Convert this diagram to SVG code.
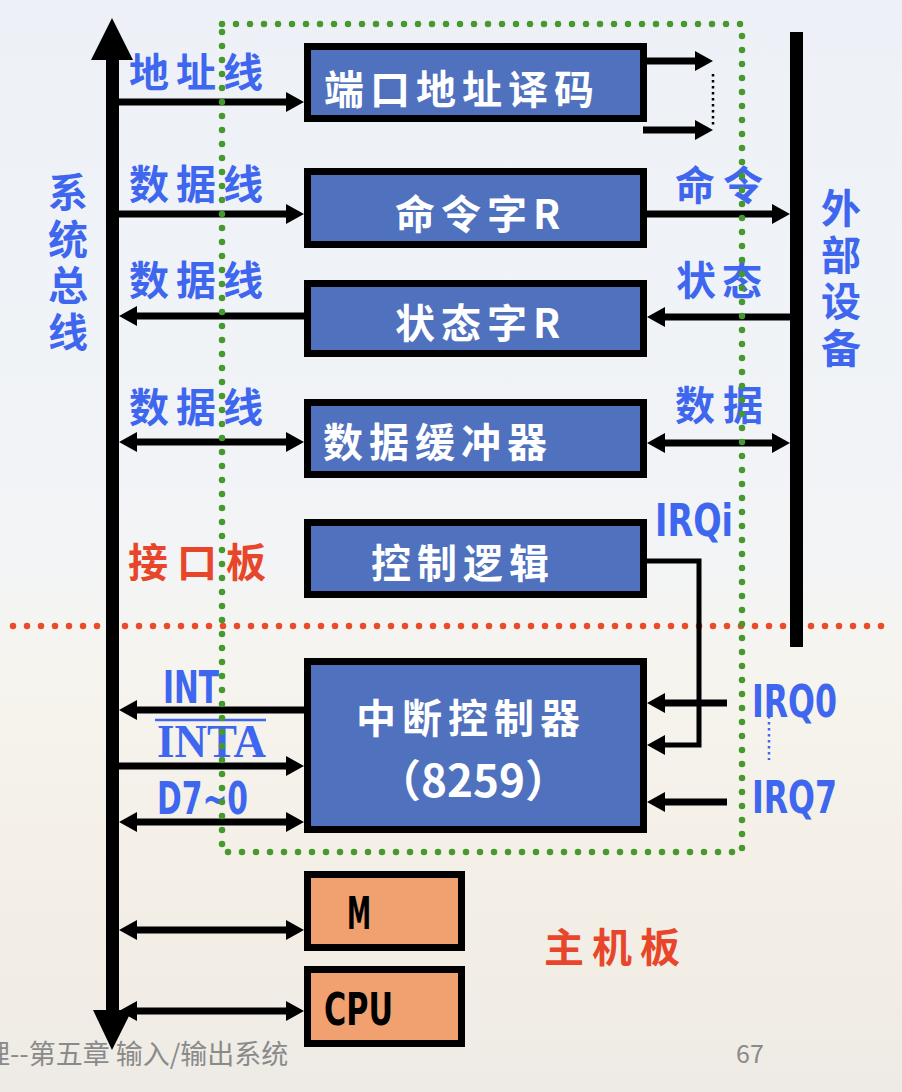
<svg xmlns="http://www.w3.org/2000/svg" width="902" height="1092" viewBox="0 0 902 1092">
<defs>
<linearGradient id="bg" x1="0" y1="0" x2="0" y2="1">
<stop offset="0" stop-color="#edf1f7"/>
<stop offset="0.5" stop-color="#f2f4f6"/>
<stop offset="0.62" stop-color="#f6f4ee"/>
<stop offset="0.85" stop-color="#f3eee5"/>
<stop offset="1" stop-color="#eeebe6"/>
</linearGradient>
<marker id="ah" viewBox="0 0 18 20" markerWidth="18" markerHeight="20" markerUnits="userSpaceOnUse" refX="8" refY="10" orient="auto-start-reverse">
<path d="M0,0 L18,10 L0,20 Z" fill="#000"/>
</marker>
<style>
.box{fill:#4f71be;stroke:#000;stroke-width:7}
.obox{fill:#f1a170;stroke:#000;stroke-width:7}
.bt{font-family:"Noto Sans CJK SC",sans-serif;font-size:40px;font-weight:bold;fill:#fff;letter-spacing:6px}
.lb{font-family:"Noto Sans CJK SC",sans-serif;font-size:40px;font-weight:bold;fill:#3e66ee}
.rd{font-family:"Noto Sans CJK SC",sans-serif;font-size:40px;font-weight:bold;fill:#e8462a}
.en{font-family:"DejaVu Sans Condensed","DejaVu Sans",sans-serif;font-weight:bold;font-size:44px;fill:#3e66ee}
.ser{font-family:"Liberation Serif",serif;font-weight:bold;font-size:46px;fill:#3e66ee}
.bk{font-family:"DejaVu Sans Condensed","DejaVu Sans",sans-serif;font-weight:bold;font-size:44px;fill:#000}
.w{stroke:#000;stroke-width:7;fill:none}
.w5{stroke:#000;stroke-width:5;fill:none}
.ft{font-family:"Noto Sans CJK SC",sans-serif;font-size:27px;fill:#8a8a8a}
</style>
</defs>
<rect x="0" y="0" width="902" height="1092" fill="url(#bg)"/>

<!-- red divider -->
<line x1="13" y1="626" x2="888" y2="626" stroke="#e94b2b" stroke-width="6.5" stroke-linecap="round" stroke-dasharray="0 14"/>

<!-- system bus -->
<g id="bus">
<rect x="106" y="58" width="13" height="954" fill="#000"/>
<polygon points="112,18 133,60 91,60" fill="#000"/>
<polygon points="112,1050 132,1010 93,1010" fill="#000"/>
</g>

<!-- external device bar -->
<g id="ext">
<rect x="790" y="32" width="13" height="615" fill="#000"/>
</g>

<g id="n-decode"><rect class="box" x="307.5" y="46.5" width="336" height="72"/><text class="bt" x="324" y="104">端口地址译码</text></g>
<g id="n-cmd"><rect class="box" x="307.5" y="171.5" width="336" height="73"/><text class="bt" x="395" y="229">命令字R</text></g>
<g id="n-status"><rect class="box" x="307.5" y="283.5" width="336" height="70"/><text class="bt" x="395" y="338">状态字R</text></g>
<g id="n-buffer"><rect class="box" x="307.5" y="402.5" width="336" height="72"/><text class="bt" x="323" y="457">数据缓冲器</text></g>
<g id="n-ctrl"><rect class="box" x="307.5" y="522.5" width="336" height="72"/><text class="bt" x="371" y="578">控制逻辑</text></g>
<g id="n-8259"><rect class="box" x="307.5" y="661.5" width="336" height="168"/><text class="bt" x="356" y="733">中断控制器</text><text class="bt" x="473" y="797" text-anchor="middle" style="letter-spacing:0;font-size:44px">（8259）</text></g>
<g id="n-m"><rect class="obox" x="307.5" y="874.5" width="154" height="73"/><text class="bk" x="347" y="929" textLength="24" lengthAdjust="spacingAndGlyphs">M</text></g>
<g id="n-cpu"><rect class="obox" x="307.5" y="969.5" width="154" height="74"/><text class="bk" x="324" y="1025" textLength="69" lengthAdjust="spacingAndGlyphs">CPU</text></g>

<g id="connectors">
<line class="w" x1="119" y1="102" x2="294" y2="102" marker-end="url(#ah)"/>
<line class="w" x1="119" y1="214" x2="294" y2="214" marker-end="url(#ah)"/>
<line class="w" x1="304" y1="316" x2="129" y2="316" marker-end="url(#ah)"/>
<line class="w" x1="129" y1="442" x2="294" y2="442" marker-start="url(#ah)" marker-end="url(#ah)"/>
<line class="w" x1="304" y1="710" x2="129" y2="710" marker-end="url(#ah)"/>
<line class="w" x1="119" y1="766" x2="294" y2="766" marker-end="url(#ah)"/>
<line class="w" x1="129" y1="822" x2="294" y2="822" marker-start="url(#ah)" marker-end="url(#ah)"/>
<line class="w" x1="129" y1="930" x2="294" y2="930" marker-start="url(#ah)" marker-end="url(#ah)"/>
<line class="w" x1="129" y1="1011" x2="294" y2="1011" marker-start="url(#ah)" marker-end="url(#ah)"/>
<line class="w" x1="647" y1="61" x2="703" y2="61" marker-end="url(#ah)"/>
<line class="w" x1="643" y1="130" x2="703" y2="130" marker-end="url(#ah)"/>
<line x1="713" y1="74" x2="713" y2="125" stroke="#000" stroke-width="2.5" stroke-dasharray="2.5 3.5"/>
<line class="w" x1="647" y1="214" x2="780" y2="214" marker-end="url(#ah)"/>
<line class="w" x1="790" y1="317" x2="657" y2="317" marker-end="url(#ah)"/>
<line class="w" x1="657" y1="443" x2="780" y2="443" marker-start="url(#ah)" marker-end="url(#ah)"/>
<path class="w5" d="M647,561 H699 V745 H657" marker-end="url(#ah)"/>
<line class="w" x1="727" y1="703" x2="657" y2="703" marker-end="url(#ah)"/>
<line class="w" x1="727" y1="802" x2="657" y2="802" marker-end="url(#ah)"/>
<line x1="769" y1="716" x2="769" y2="760" stroke="#3e66ee" stroke-width="2.5" stroke-dasharray="2.5 3.5"/>
</g>

<!-- labels -->
<text class="lb" x="129" y="87" style="letter-spacing:7px">地址线</text>
<text class="lb" x="129" y="199" style="letter-spacing:7px">数据线</text>
<text class="lb" x="129" y="295" style="letter-spacing:7px">数据线</text>
<text class="lb" x="129" y="422" style="letter-spacing:7px">数据线</text>
<text class="lb" x="68" text-anchor="middle"><tspan x="68" y="207">系</tspan><tspan x="68" y="254">统</tspan><tspan x="68" y="300">总</tspan><tspan x="68" y="347">线</tspan></text>
<text class="lb" x="841" text-anchor="middle"><tspan x="841" y="223">外</tspan><tspan x="841" y="270">部</tspan><tspan x="841" y="316">设</tspan><tspan x="841" y="363">备</tspan></text>
<text class="lb" x="675" y="200" style="letter-spacing:8px">命令</text>
<text class="lb" x="676" y="295" style="letter-spacing:6px">状态</text>
<text class="lb" x="675" y="420" style="letter-spacing:8px">数据</text>
<text class="rd" x="128" y="577" style="letter-spacing:9px">接口板</text>
<text class="rd" x="544" y="962" style="letter-spacing:8px">主机板</text>
<text class="en" x="655" y="536" textLength="78" lengthAdjust="spacingAndGlyphs">IRQi</text>
<text class="en" x="752" y="717" textLength="85" lengthAdjust="spacingAndGlyphs">IRQ0</text>
<text class="en" x="752" y="813" textLength="85" lengthAdjust="spacingAndGlyphs">IRQ7</text>
<text class="en" x="163" y="703" textLength="56" lengthAdjust="spacingAndGlyphs">INT</text>
<text class="ser" x="157" y="757" textLength="109" lengthAdjust="spacingAndGlyphs">INTA</text>
<line x1="155" y1="720" x2="266" y2="720" stroke="#3e66ee" stroke-width="2.5"/>
<text class="en" x="157" y="814" textLength="91" lengthAdjust="spacingAndGlyphs">D7~0</text>

<!-- interface board boundary -->
<path d="M222,24 H742 V852 H222 Z" fill="none" stroke="#46992c" stroke-width="6.5" stroke-linecap="round" stroke-dasharray="0 14"/>

<!-- footer -->
<text class="ft" x="-17" y="1064">理--第五章 输入/输出系统</text>
<text class="ft" x="736" y="1063" style="font-size:25px">67</text>
</svg>
